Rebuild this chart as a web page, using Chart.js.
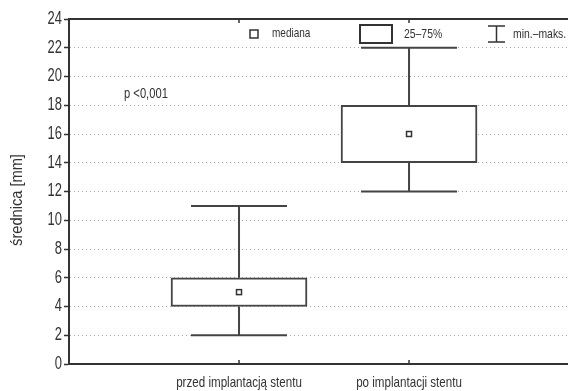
<!DOCTYPE html>
<html>
<head>
<meta charset="utf-8">
<script src="https://cdn.jsdelivr.net/npm/chart.js@4.4.1/dist/chart.umd.min.js"></script>
<style>
  html, body { margin: 0; padding: 0; background: #fff; }
  #wrap { width: 568px; height: 391px; position: relative; }
</style>
</head>
<body>
<div id="wrap"><canvas id="box-chart"></canvas></div>
<script>
// dane
var groups = ['przed implantacją stentu', 'po implantacji stentu'];
var groupPos = [1, 2];
var minVals = [2, 12];
var q1Vals = [4, 14];
var medianVals = [5, 16];
var q3Vals = [6, 18];
var maxVals = [11, 22];
var yTicks = [0, 2, 4, 6, 8, 10, 12, 14, 16, 18, 20, 22, 24];

var FONT = '"Liberation Sans", Arial, sans-serif';
var INK = '#333333';

var boxData = groupPos.map(function (x, i) {
    return { x: x, y: [q1Vals[i], q3Vals[i]] };
});

// tekst zwężony (czcionka wąska jak w oryginale)
function narrowText(ctx, text, x, y, size, align, sx) {
    ctx.save();
    ctx.font = size + 'px ' + FONT;
    ctx.textBaseline = 'middle';
    ctx.textAlign = align;
    ctx.translate(x, y);
    ctx.scale(sx, 1);
    ctx.fillText(text, 0, 0);
    ctx.restore();
}

// wąsy, mediana, legenda i opisy - rysowane na skalach wykresu
var boxExtras = {
    id: 'boxExtras',
    afterDatasetsDraw: function (chart) {
        var ctx = chart.ctx;
        var xs = chart.scales.x;
        var ys = chart.scales.y;
        var area = chart.chartArea;
        ctx.save();
        ctx.strokeStyle = INK;
        ctx.fillStyle = INK;
        ctx.lineWidth = 2;

        // górna ramka
        ctx.beginPath();
        ctx.moveTo(area.left, area.top);
        ctx.lineTo(area.right, area.top);
        ctx.stroke();

        groupPos.forEach(function (p, i) {
            var cx = xs.getPixelForValue(p);
            var capHalf = 48;
            ctx.strokeStyle = '#444444';
            ctx.lineWidth = 2;
            ctx.beginPath();
            ctx.moveTo(cx, ys.getPixelForValue(q3Vals[i]));
            ctx.lineTo(cx, ys.getPixelForValue(maxVals[i]));
            ctx.moveTo(cx, ys.getPixelForValue(q1Vals[i]));
            ctx.lineTo(cx, ys.getPixelForValue(minVals[i]));
            ctx.moveTo(cx - capHalf, ys.getPixelForValue(maxVals[i]));
            ctx.lineTo(cx + capHalf, ys.getPixelForValue(maxVals[i]));
            ctx.moveTo(cx - capHalf, ys.getPixelForValue(minVals[i]));
            ctx.lineTo(cx + capHalf, ys.getPixelForValue(minVals[i]));
            ctx.stroke();

            // mediana
            var my = ys.getPixelForValue(medianVals[i]);
            ctx.strokeStyle = INK;
            ctx.lineWidth = 1.5;
            ctx.strokeRect(cx - 2.5, my - 2.5, 5, 5);

            // znaczniki osi x (do środka)
            ctx.beginPath();
            ctx.moveTo(cx, area.bottom);
            ctx.lineTo(cx, area.bottom - 4);
            ctx.moveTo(cx, area.top);
            ctx.lineTo(cx, area.top + 4);
            ctx.stroke();

            // etykieta kategorii
            narrowText(ctx, groups[i], cx, 383, 14.5, 'center', 0.8);
        });

        // etykiety osi y
        yTicks.forEach(function (v) {
            narrowText(ctx, String(v), 62, ys.getPixelForValue(v), 18, 'right', 0.72);
        });

        // tytuł osi y
        ctx.save();
        ctx.translate(17, 200);
        ctx.rotate(-Math.PI / 2);
        narrowText(ctx, 'średnica [mm]', 0, 0, 17, 'center', 0.86);
        ctx.restore();

        // legenda
        var ly = area.top + 15;
        ctx.lineWidth = 1.5;
        ctx.strokeRect(250, ly - 4, 8, 8);
        narrowText(ctx, 'mediana', 272, ly, 12.5, 'left', 0.8);

        ctx.lineWidth = 2;
        ctx.strokeRect(360, ly - 9, 32, 18);
        narrowText(ctx, '25\u201375%', 404, ly, 13, 'left', 0.8);

        ctx.lineWidth = 1.5;
        ctx.beginPath();
        ctx.moveTo(488, ly - 8); ctx.lineTo(505, ly - 8);
        ctx.moveTo(496.5, ly - 8); ctx.lineTo(496.5, ly + 8);
        ctx.moveTo(488, ly + 8); ctx.lineTo(505, ly + 8);
        ctx.stroke();
        narrowText(ctx, 'min.\u2013maks.', 513, ly, 13, 'left', 0.8);

        narrowText(ctx, 'p <0,001', 124, ys.getPixelForValue(18.8), 14, 'left', 0.8);
        ctx.restore();
    }
};

var chart = new Chart(document.getElementById('box-chart'), {
    type: 'bar',
    data: {
        datasets: [{
            label: '25–75%',
            data: boxData,
            backgroundColor: '#ffffff',
            borderColor: '#444444',
            borderWidth: 2,
            borderSkipped: false,
            barThickness: 136
        }]
    },
    options: {
        responsive: true,
        maintainAspectRatio: false,
        animation: false,
        layout: { padding: { top: 19, right: 0, left: 0, bottom: 0 } },
        plugins: { legend: { display: false }, tooltip: { enabled: false } },
        scales: {
            x: {
                type: 'linear',
                offset: false,
                min: 0,
                max: 2.935,
                afterBuildTicks: function (axis) {
                    axis.ticks = groupPos.map(function (v) { return { value: v }; });
                },
                afterFit: function (axis) { axis.height = 27; },
                grid: { display: false, drawTicks: false },
                border: { display: true, color: INK, width: 2 },
                ticks: { display: false }
            },
            y: {
                min: 0,
                max: 24,
                afterBuildTicks: function (axis) {
                    axis.ticks = yTicks.map(function (v) { return { value: v }; });
                },
                afterFit: function (axis) { axis.width = 69; },
                grid: {
                    color: function (c) {
                        var v = c.tick ? c.tick.value : null;
                        return (v === 0 || v === 24) ? 'rgba(0,0,0,0)' : '#a8a8a8';
                    },
                    lineWidth: 1,
                    tickLength: 5,
                    tickColor: INK,
                    tickWidth: 1.5,
                    tickBorderDash: []
                },
                border: { display: true, color: INK, width: 2, dash: [1, 3] },
                ticks: { display: false }
            }
        }
    },
    plugins: [boxExtras]
});
</script>
</body>
</html>
